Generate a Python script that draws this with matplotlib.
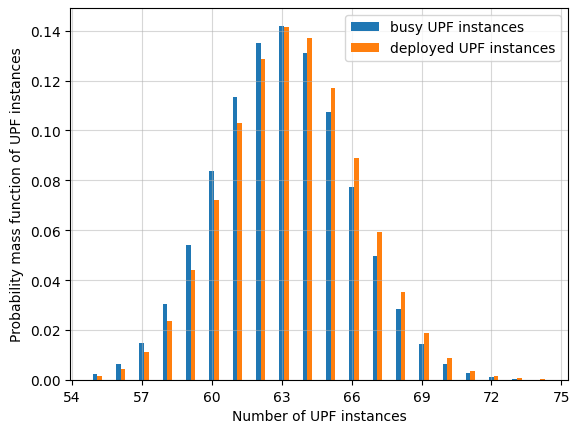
import numpy as np
import matplotlib
matplotlib.use("Agg")
import matplotlib.pyplot as plt

# Number of UPF instances and their probability mass
instances = list(range(55, 75))
busy_pmf = [0.0023, 0.0063, 0.0146, 0.0303, 0.0540, 0.0836, 0.1136, 0.1352,
            0.1420, 0.1312, 0.1072, 0.0772, 0.0496, 0.0284, 0.0143, 0.0063,
            0.0027, 0.0011, 0.0003, 0.0001]
deployed_pmf = [0.0015, 0.0043, 0.0110, 0.0235, 0.0440, 0.0720, 0.1028, 0.1288,
                0.1416, 0.1372, 0.1172, 0.0889, 0.0592, 0.0352, 0.0187, 0.0087,
                0.0035, 0.0015, 0.0007, 0.0002]
xticks = list(range(54, 76, 3))

fig, ax = plt.subplots(figsize=(5.7, 4.27), dpi=100)
fig.subplots_adjust(left=0.123, right=0.996, top=0.979, bottom=0.108)

x = np.array(instances)
width = 0.2
ax.bar(x, busy_pmf, width=width, color="#1f77b4", label="busy UPF instances")
ax.bar(x + width, deployed_pmf, width=width, color="#ff7f0e",
       label="deployed UPF instances")

ax.set_xticks(xticks)
ax.grid(True, alpha=0.5)
ax.set_xlabel("Number of UPF instances")
ax.set_ylabel("Probability mass function of UPF instances")
ax.legend(loc="upper right")

fig.savefig("out.png", dpi=100)
